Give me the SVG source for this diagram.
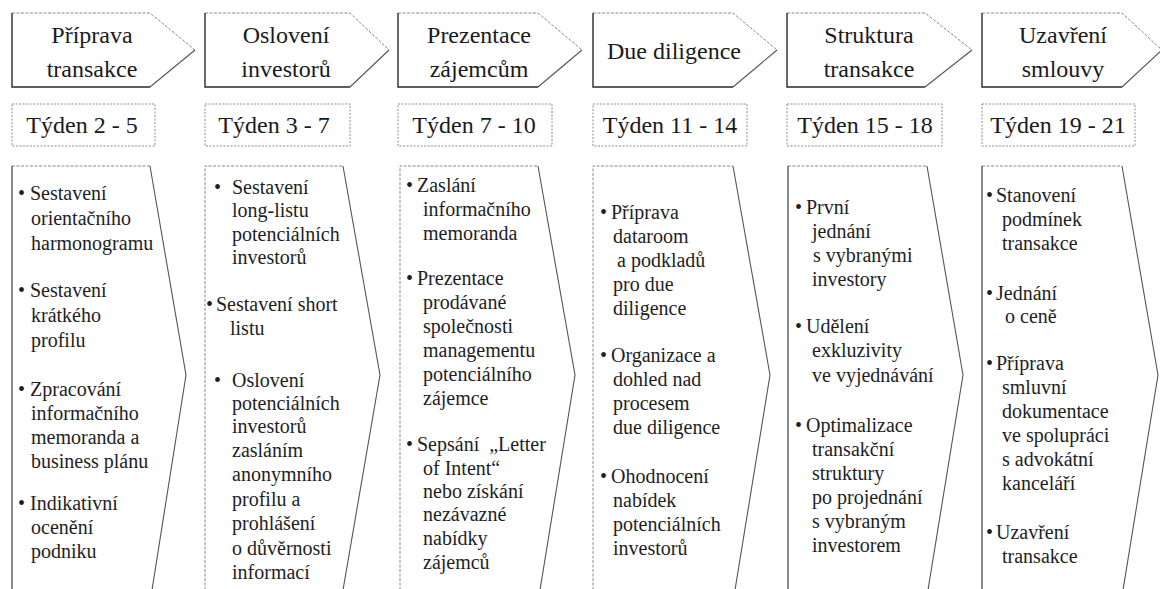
<svg xmlns="http://www.w3.org/2000/svg" width="1160" height="589" viewBox="0 0 1160 589">
  <style>
    .bg { fill: #ffffff; }
    .head { fill: #ffffff; stroke: none; }
    .edge-light { fill: none; stroke: #8a8a8a; stroke-width: 1; stroke-dasharray: 3 1.5; }
    .edge-dark { fill: none; stroke: #2a2a2a; stroke-width: 1.4; }
    .edge-mid { fill: none; stroke: #555555; stroke-width: 1.1; }
    .week { fill: #ffffff; stroke: #8c8c8c; stroke-width: 1; stroke-dasharray: 2 1.5; }
    .title { font-size: 24px; fill: #1a1a1a; text-anchor: middle; }
    .wk { font-size: 24px; fill: #1a1a1a; text-anchor: middle; }
    .body text { font-size: 20px; fill: #1e1e1e; }
    .pre { white-space: pre; }
  </style>
  <rect class="bg" x="0" y="0" width="1160" height="589"/>

  <!-- Phase header arrows -->
  <g id="phase-1" font-family="Liberation Serif, Times New Roman, serif">
    <polygon class="head" points="12,13 150,13 195,50 150,87 12,87"/>
    <polyline class="edge-light" points="12,13 150,13 195,50"/>
    <polyline class="edge-dark" points="12,13 12,87 150,87"/>
    <line class="edge-mid" x1="195" y1="50" x2="150" y2="87"/>
    <text class="title" x="92" y="43">Příprava</text>
    <text class="title" x="92" y="77">transakce</text>
  </g>
  <g id="phase-2" font-family="Liberation Serif, Times New Roman, serif">
    <polygon class="head" points="205,13 350,13 389,50 350,87 205,87"/>
    <polyline class="edge-light" points="205,13 350,13 389,50"/>
    <polyline class="edge-dark" points="205,13 205,87 350,87"/>
    <line class="edge-mid" x1="389" y1="50" x2="350" y2="87"/>
    <text class="title" x="286" y="43">Oslovení</text>
    <text class="title" x="286" y="77">investorů</text>
  </g>
  <g id="phase-3" font-family="Liberation Serif, Times New Roman, serif">
    <polygon class="head" points="398,13 538,13 582,50 538,87 398,87"/>
    <polyline class="edge-light" points="398,13 538,13 582,50"/>
    <polyline class="edge-dark" points="398,13 398,87 538,87"/>
    <line class="edge-mid" x1="582" y1="50" x2="538" y2="87"/>
    <text class="title" x="479" y="43">Prezentace</text>
    <text class="title" x="479" y="77">zájemcům</text>
  </g>
  <g id="phase-4" font-family="Liberation Serif, Times New Roman, serif">
    <polygon class="head" points="593,13 733,13 777,50 733,87 593,87"/>
    <polyline class="edge-light" points="593,13 733,13 777,50"/>
    <polyline class="edge-dark" points="593,13 593,87 733,87"/>
    <line class="edge-mid" x1="777" y1="50" x2="733" y2="87"/>
    <text class="title" x="674" y="59">Due diligence</text>
  </g>
  <g id="phase-5" font-family="Liberation Serif, Times New Roman, serif">
    <polygon class="head" points="787,13 925,13 972,50 925,87 787,87"/>
    <polyline class="edge-light" points="787,13 925,13 972,50"/>
    <polyline class="edge-dark" points="787,13 787,87 925,87"/>
    <line class="edge-mid" x1="972" y1="50" x2="925" y2="87"/>
    <text class="title" x="869" y="43">Struktura</text>
    <text class="title" x="869" y="77">transakce</text>
  </g>
  <g id="phase-6" font-family="Liberation Serif, Times New Roman, serif">
    <polygon class="head" points="982,13 1122,13 1162,50 1122,87 982,87"/>
    <polyline class="edge-light" points="982,13 1122,13 1162,50"/>
    <polyline class="edge-dark" points="982,13 982,87 1122,87"/>
    <line class="edge-mid" x1="1162" y1="50" x2="1122" y2="87"/>
    <text class="title" x="1063" y="43">Uzavření</text>
    <text class="title" x="1063" y="77">smlouvy</text>
  </g>

  <!-- Week ranges -->
  <g id="week-1" font-family="Liberation Serif, Times New Roman, serif"><rect class="week" x="12" y="104" width="143" height="42"/><text class="wk" x="82" y="133">Týden 2 - 5</text></g>
  <g id="week-2" font-family="Liberation Serif, Times New Roman, serif"><rect class="week" x="205" y="104" width="145" height="42"/><text class="wk" x="274" y="133">Týden 3 - 7</text></g>
  <g id="week-3" font-family="Liberation Serif, Times New Roman, serif"><rect class="week" x="398" y="104" width="154" height="42"/><text class="wk" x="474" y="133">Týden 7 - 10</text></g>
  <g id="week-4" font-family="Liberation Serif, Times New Roman, serif"><rect class="week" x="593" y="104" width="154" height="42"/><text class="wk" x="670" y="133">Týden 11 - 14</text></g>
  <g id="week-5" font-family="Liberation Serif, Times New Roman, serif"><rect class="week" x="787" y="104" width="155" height="42"/><text class="wk" x="865" y="133">Týden 15 - 18</text></g>
  <g id="week-6" font-family="Liberation Serif, Times New Roman, serif"><rect class="week" x="982" y="104" width="153" height="42"/><text class="wk" x="1058" y="133">Týden 19 - 21</text></g>

  <!-- Activity chevrons -->
  <g id="tasks-1" font-family="Liberation Serif, Times New Roman, serif">
    <polyline class="edge-light" points="12,166 150,166"/>
    <line class="edge-dark" x1="12" y1="166" x2="12" y2="590" style="stroke-width:1.1"/>
    <polyline class="edge-mid" points="150,166 186,375 152,590"/>
    <g class="body">
      <text x="18" y="200">•</text><text x="30" y="200">Sestavení</text>
      <text x="31" y="225">orientačního</text>
      <text x="31" y="250">harmonogramu</text>
      <text x="18" y="297">•</text><text x="30" y="297">Sestavení</text>
      <text x="31" y="322">krátkého</text>
      <text x="31" y="347">profilu</text>
      <text x="18" y="396">•</text><text x="30" y="396">Zpracování</text>
      <text x="31" y="420">informačního</text>
      <text x="31" y="444">memoranda a</text>
      <text x="31" y="468">business plánu</text>
      <text x="18" y="510">•</text><text x="30" y="510">Indikativní</text>
      <text x="31" y="534">ocenění</text>
      <text x="31" y="558">podniku</text>
    </g>
  </g>
  <g id="tasks-2" font-family="Liberation Serif, Times New Roman, serif">
    <polyline class="edge-light" points="205,590 205,166 343,166"/>
    <polyline class="edge-mid" points="343,166 380,375 343,590"/>
    <g class="body">
      <text x="214" y="194">•</text><text x="232" y="194">Sestavení</text>
      <text x="232" y="217">long-listu</text>
      <text x="232" y="241">potenciálních</text>
      <text x="232" y="264">investorů</text>
      <text x="206" y="311">•</text><text x="216" y="311">Sestavení short</text>
      <text x="230" y="335">listu</text>
      <text x="214" y="387">•</text><text x="232" y="387">Oslovení</text>
      <text x="232" y="410">potenciálních</text>
      <text x="232" y="433">investorů</text>
      <text x="232" y="457">zasláním</text>
      <text x="232" y="481">anonymního</text>
      <text x="232" y="506">profilu a</text>
      <text x="232" y="530">prohlášení</text>
      <text x="232" y="555">o důvěrnosti</text>
      <text x="232" y="579">informací</text>
    </g>
  </g>
  <g id="tasks-3" font-family="Liberation Serif, Times New Roman, serif">
    <polyline class="edge-light" points="400,590 400,166 538,166"/>
    <polyline class="edge-mid" points="538,166 575,375 540,590"/>
    <g class="body">
      <text x="406" y="192">•</text><text x="417" y="192">Zaslání</text>
      <text x="423" y="216">informačního</text>
      <text x="423" y="240">memoranda</text>
      <text x="406" y="285">•</text><text x="417" y="285">Prezentace</text>
      <text x="423" y="309">prodávané</text>
      <text x="423" y="333">společnosti</text>
      <text x="423" y="357">managementu</text>
      <text x="423" y="381">potenciálního</text>
      <text x="423" y="405">zájemce</text>
      <text x="406" y="451">•</text><text class="pre" x="417" y="451">Sepsání  „Letter</text>
      <text x="423" y="475">of Intent“</text>
      <text x="423" y="498">nebo získání</text>
      <text x="423" y="521">nezávazné</text>
      <text x="423" y="545">nabídky</text>
      <text x="423" y="569">zájemců</text>
    </g>
  </g>
  <g id="tasks-4" font-family="Liberation Serif, Times New Roman, serif">
    <polyline class="edge-light" points="593,590 593,166 733,166"/>
    <polyline class="edge-mid" points="733,166 770,375 735,590"/>
    <g class="body">
      <text x="600" y="219">•</text><text x="611" y="219">Příprava</text>
      <text x="613" y="243">dataroom</text>
      <text x="617" y="267">a podkladů</text>
      <text x="613" y="291">pro due</text>
      <text x="613" y="315">diligence</text>
      <text x="600" y="362">•</text><text x="611" y="362">Organizace a</text>
      <text x="613" y="386">dohled nad</text>
      <text x="613" y="410">procesem</text>
      <text x="613" y="434">due diligence</text>
      <text x="600" y="483">•</text><text x="611" y="483">Ohodnocení</text>
      <text x="613" y="507">nabídek</text>
      <text x="613" y="531">potenciálních</text>
      <text x="613" y="555">investorů</text>
    </g>
  </g>
  <g id="tasks-5" font-family="Liberation Serif, Times New Roman, serif">
    <polyline class="edge-light" points="788,166 927,166"/>
    <line class="edge-dark" x1="788" y1="166" x2="788" y2="590" style="stroke-width:1.1"/>
    <polyline class="edge-mid" points="927,166 963,375 928,590"/>
    <g class="body">
      <text x="795" y="214">•</text><text x="806" y="214">První</text>
      <text x="812" y="238">jednání</text>
      <text x="813" y="262">s vybranými</text>
      <text x="812" y="286">investory</text>
      <text x="795" y="333">•</text><text x="806" y="333">Udělení</text>
      <text x="812" y="357">exkluzivity</text>
      <text x="812" y="382">ve vyjednávání</text>
      <text x="795" y="432">•</text><text x="806" y="432">Optimalizace</text>
      <text x="812" y="456">transakční</text>
      <text x="812" y="480">struktury</text>
      <text x="812" y="504">po projednání</text>
      <text x="812" y="528">s vybraným</text>
      <text x="812" y="552">investorem</text>
    </g>
  </g>
  <g id="tasks-6" font-family="Liberation Serif, Times New Roman, serif">
    <polyline class="edge-light" points="982,166 1122,166"/>
    <line class="edge-dark" x1="982" y1="166" x2="982" y2="590" style="stroke-width:1.1"/>
    <polyline class="edge-mid" points="1122,166 1158,375 1123,590"/>
    <g class="body">
      <text x="986" y="202">•</text><text x="996" y="202">Stanovení</text>
      <text x="1002" y="226">podmínek</text>
      <text x="1002" y="250">transakce</text>
      <text x="986" y="300">•</text><text x="996" y="300">Jednání</text>
      <text x="1005" y="323">o ceně</text>
      <text x="986" y="370">•</text><text x="996" y="370">Příprava</text>
      <text x="1002" y="394">smluvní</text>
      <text x="1002" y="418">dokumentace</text>
      <text x="1002" y="442">ve spolupráci</text>
      <text x="1002" y="466">s advokátní</text>
      <text x="1002" y="490">kanceláří</text>
      <text x="986" y="539">•</text><text x="996" y="539">Uzavření</text>
      <text x="1002" y="563">transakce</text>
    </g>
  </g>
</svg>
